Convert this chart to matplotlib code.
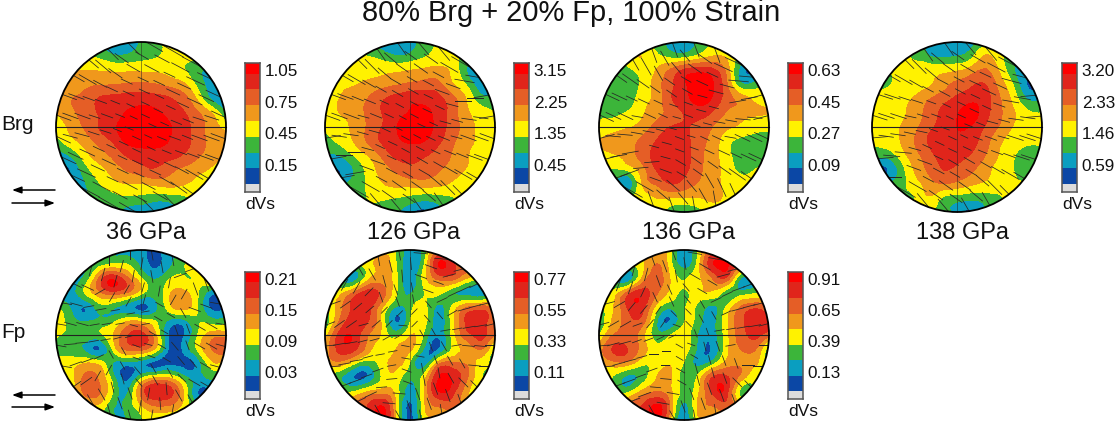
#!/usr/bin/env python3
import numpy as np
import matplotlib
matplotlib.use("Agg")
import matplotlib.pyplot as plt
import matplotlib.tri as mtri
from matplotlib.patches import Circle

plt.rcParams["font.family"] = ["Liberation Sans", "DejaVu Sans"]

W, H = 1116, 423

# field values in units of one colour band, rows top to bottom
brg_36 = [
    [2, 2, 2, 2, 1, 1, 2.2, 2.8, 3.2, 3.5, 3, 2, 1],
    [3, 3, 3, 2.8, 2.2, 2.2, 2.6, 2.9, 3.2, 3.3, 3, 2, 1.5],
    [4, 4, 4.0, 3.95, 3.85, 3.85, 3.85, 3.8, 3.6, 3.1, 2.3, 1.5, 1.5],
    [4, 4.2, 4.7, 4.9, 5.0, 5.1, 5.2, 5.05, 4.7, 4.2, 2.7, 1.5, 1.0],
    [4, 4.9, 5.4, 6.05, 6.3, 6.5, 6.6, 6.4, 6.1, 5.4, 3.8, 1.8, 1.2],
    [4, 4.6, 5.5, 6.05, 6.6, 7.05, 7.3, 7.2, 6.7, 6.1, 5.1, 3.95, 2.0],
    [3.5, 4.2, 5.1, 6.0, 6.8, 7.5, 7.9, 7.7, 7.1, 6.4, 5.5, 4.5, 3.7],
    [2.6, 3.6, 4.4, 5.3, 6.1, 7.2, 7.5, 7.5, 6.95, 6.3, 5.6, 4.6, 4.2],
    [1.5, 2.1, 3.5, 4.5, 5.2, 6.1, 6.5, 6.5, 6.4, 5.9, 5.2, 4.4, 4],
    [0.8, 1.0, 2.5, 3.6, 4.4, 5.1, 5.6, 5.9, 5.3, 4.8, 4.3, 3.9, 3.5],
    [1, 1.2, 1.9, 2.9, 3.6, 4.0, 4.0, 4.3, 4.4, 4.1, 3.7, 3.5, 3],
    [2, 2, 2, 2.4, 2.7, 2.8, 2.7, 2.4, 2.5, 2.8, 3.2, 3, 3],
    [3, 3, 3, 2.5, 2.5, 1.5, 1.0, 0.9, 1.2, 2.5, 3, 3, 3],
]
brg_126 = [
    [3, 3, 3, 2, 1.2, 0.8, 1.4, 2.5, 3, 3, 3, 3, 3],
    [3, 3, 3, 3, 2.6, 2.1, 2.3, 2.9, 3.4, 3.3, 2.6, 2, 2],
    [3, 3, 3.3, 3.5, 3.7, 3.8, 4.0, 4.2, 4.3, 3.7, 2.0, 1.0, 1.5],
    [3, 3.6, 3.9, 4.3, 4.6, 4.9, 5.2, 5.4, 5.3, 4.1, 2.9, 1.3, 1.5],
    [3.5, 4.0, 4.5, 5.0, 5.8, 6.4, 6.7, 6.7, 6.3, 5.3, 3.9, 2.4, 2.2],
    [3.2, 4.0, 4.4, 5.2, 6.0, 6.7, 7.1, 7.2, 6.6, 5.5, 4.2, 3.5, 3.0],
    [3.2, 3.6, 4.2, 5.1, 6.0, 6.9, 7.9, 7.6, 6.6, 5.5, 4.5, 3.7, 3.2],
    [2.6, 3.2, 4.0, 5.1, 6.1, 6.7, 7.2, 7.0, 6.2, 5.2, 4.3, 3.8, 3.3],
    [2, 2.0, 3.0, 4.0, 5.2, 6.2, 6.3, 6.1, 5.6, 4.9, 4.1, 3.6, 3.2],
    [1, 1.0, 2.0, 3.3, 4.4, 5.2, 5.7, 5.6, 5.1, 4.6, 3.9, 3.2, 3],
    [1, 1.5, 2.4, 3.1, 3.9, 4.3, 4.4, 4.5, 4.3, 3.8, 3.2, 3, 3],
    [3, 3, 3, 3, 3.1, 3.0, 2.7, 2.4, 2.6, 2.95, 3.3, 3, 3],
    [3, 3, 3, 3, 3, 2.2, 1.2, 0.7, 1.5, 2.5, 3, 3, 3],
]
brg_136 = [
    [3, 3, 3, 3, 2.5, 1.6, 1.0, 2.4, 3, 3, 3, 3, 3],
    [3, 3, 3.5, 4.0, 3.3, 2.7, 2.6, 3.3, 4.0, 3.8, 2.6, 2, 2],
    [2.8, 2.6, 2.7, 3.4, 4.0, 5.1, 6.2, 6.6, 6.3, 4.7, 1.6, 1.0, 2],
    [2.5, 2.4, 2.2, 3.2, 4.4, 5.7, 6.8, 7.6, 7.1, 5.2, 2.3, 2.4, 2.6],
    [2.5, 2.2, 2.3, 3.5, 4.3, 5.8, 6.7, 7.3, 6.9, 5.5, 4.6, 3.8, 3.5],
    [2.8, 2.7, 3.1, 3.8, 4.6, 5.3, 6.1, 6.5, 5.9, 4.9, 4.4, 4.1, 4.0],
    [3.3, 3.6, 3.9, 4.4, 5.3, 6.0, 6.1, 5.7, 5.0, 4.2, 3.8, 3.4, 3.3],
    [4.0, 4.3, 4.6, 5.2, 6.0, 6.5, 6.3, 5.5, 4.6, 3.4, 2.7, 2.5, 2.5],
    [3.7, 3.9, 4.4, 5.4, 6.3, 6.95, 6.5, 5.4, 4.4, 3.4, 2.4, 2.3, 2.6],
    [3, 2.9, 3.2, 4.5, 6.0, 6.7, 6.3, 5.3, 4.4, 3.6, 2.8, 3, 3],
    [2, 2, 1.2, 3.9, 5.1, 6.0, 5.6, 4.9, 4.3, 3.8, 3.3, 3, 3],
    [2, 2, 3, 3.3, 4.0, 4.0, 3.95, 3.95, 4.2, 3.8, 3.3, 3, 3],
    [3, 3, 3, 3, 3.2, 2.5, 1.7, 2.5, 3.2, 3.5, 3, 3, 3],
]
brg_138 = [
    [3, 3, 3, 3, 2, 1.3, 0.9, 1.6, 2.5, 3, 3, 3, 3],
    [3, 3, 3, 2.8, 2.1, 1.8, 2.0, 2.7, 4.1, 3.3, 2.5, 2, 2],
    [3, 3, 3.2, 3.5, 3.7, 3.7, 3.9, 4.5, 5.1, 3.9, 2.1, 1.2, 1.5],
    [2.8, 2.9, 3.3, 3.6, 3.9, 4.5, 5.3, 5.8, 6.0, 4.6, 2.9, 0.9, 1.5],
    [3, 3.4, 3.7, 4.1, 4.9, 5.6, 6.2, 6.7, 6.4, 5.1, 3.6, 1.9, 2],
    [3.2, 3.5, 3.8, 4.4, 5.4, 6.2, 6.9, 7.4, 6.4, 5.2, 4.1, 3.2, 3.0],
    [3.3, 3.6, 4.0, 4.7, 5.7, 6.4, 7.0, 6.9, 5.9, 4.9, 3.9, 3.4, 3.2],
    [3.0, 3.4, 4.0, 5.0, 6.1, 6.6, 6.8, 6.4, 5.4, 4.2, 3.5, 3.2, 3.2],
    [2.6, 2.3, 3.4, 4.6, 5.6, 6.4, 6.4, 5.9, 5.0, 3.9, 3.1, 2.4, 2.5],
    [1, 0.9, 2.4, 4.1, 5.2, 6.0, 5.8, 5.2, 4.4, 3.6, 3.0, 2.3, 3],
    [2, 2, 2.6, 3.5, 4.5, 5.0, 4.7, 4.2, 3.8, 3.4, 3.2, 3, 3],
    [3, 3, 3, 3.0, 3.9, 2.9, 2.5, 2.3, 2.5, 2.9, 3.2, 3, 3],
    [3, 3, 3, 3, 3, 2.5, 1.5, 0.8, 2, 3, 3, 3, 3],
]
fp_36 = [
    [2, 2, 2, 2, 2, 1.5, 1.2, 0.9, 1.5, 2, 2, 2, 2],
    [2, 2, 2, 2.5, 3.1, 3.0, 1.7, 0.8, 1.7, 2.9, 3.4, 3, 2],
    [2, 2, 2.2, 5.0, 6.8, 5.3, 3.2, 1.9, 2.9, 3.1, 3.3, 4, 3],
    [2, 1.5, 3.0, 4.7, 5.7, 5.0, 3.4, 2.4, 3.8, 4.3, 3.1, 1.4, 1],
    [3, 1.9, 1.1, 2.5, 2.3, 1.5, 0.7, 1.7, 3.6, 4.5, 3.0, 0.7, 1],
    [4.0, 2.5, 1.9, 2.2, 2.6, 3.8, 3.7, 3.0, 1.8, 1.7, 2.9, 2.4, 2.5],
    [3.2, 2.6, 2.6, 2.7, 3.9, 5.8, 6.4, 4.3, 0.8, 0.9, 3.0, 4.5, 4.5],
    [2.9, 2.4, 1.9, 0.9, 3.1, 5.2, 5.3, 3.8, 0.8, 1.2, 3.2, 5.0, 5.4],
    [3, 3.6, 4.0, 3.7, 2.0, 1.5, 1.4, 0.7, 0.7, 0.7, 1.4, 3.7, 3],
    [3, 3.5, 5.2, 4.9, 2.5, 0.7, 2.7, 3.9, 3.9, 2.4, 1.7, 2.2, 2],
    [3, 3, 5.3, 5.2, 3.0, 1.8, 5.2, 6.8, 6.4, 4.0, 1.0, 1, 1],
    [3, 3, 3.5, 3.8, 2.2, 2.3, 3.9, 5.0, 4.9, 3.7, 2, 1, 1],
    [3, 3, 3, 3, 2.5, 2.0, 2.9, 3.3, 3, 3, 2, 2, 2],
]
fp_126 = [
    [3, 3, 3, 3, 3.3, 3, 1.3, 2.5, 4.5, 5.5, 4, 3, 3],
    [3, 3, 3, 3.5, 4.5, 3.1, 1.3, 3.0, 7.0, 6.2, 5, 3, 3],
    [3, 2, 1.5, 3.6, 4.5, 3.3, 1.4, 3.5, 5.3, 5.4, 4.0, 3, 3],
    [3, 3.5, 5.0, 6.4, 5.6, 3.2, 1.9, 3.0, 3.3, 2.3, 1.7, 1.2, 2],
    [3, 4.5, 6.3, 6.5, 4.3, 2.0, 2.6, 3.3, 1.8, 3.2, 4.8, 5.2, 4.5],
    [2, 5.0, 6.5, 6.1, 3.8, 0.9, 2.9, 3.5, 1.5, 3.5, 6.2, 6.5, 5.0],
    [3.5, 6.3, 6.8, 5.1, 3.8, 2.6, 3.9, 2.8, 1.2, 3.4, 5.6, 6.3, 5.1],
    [4.3, 6.3, 6.3, 4.5, 3.4, 4.0, 4.2, 1.8, 1.0, 3.2, 4.3, 5.0, 2.5],
    [4, 4.6, 3.3, 2.4, 3.4, 4.3, 2.9, 1.4, 4.6, 5.2, 4.8, 3.5, 3],
    [3, 2.2, 1.0, 1.1, 3.1, 3.6, 2.2, 3.6, 6.9, 6.8, 5.2, 3.1, 3],
    [3, 3, 3.0, 4.0, 4.5, 3.6, 1.5, 4.0, 6.9, 6.4, 4.3, 3, 3],
    [3, 3, 5, 6.0, 7.0, 3.9, 0.8, 3.8, 5.1, 5.3, 4, 3, 3],
    [3, 3, 5, 6, 7, 4, 0.5, 3, 4, 4, 3, 3, 3],
]
fp_136 = [
    [3, 3, 3, 3, 4, 3.5, 0.9, 3, 5, 6, 5, 3, 3],
    [3, 3, 3, 3.7, 5.0, 3.5, 1.5, 3.5, 6.8, 7.2, 5.5, 3, 3],
    [3, 2, 1.3, 4.0, 5.5, 4.0, 2.9, 3.8, 5.0, 5.7, 2.0, 2, 3],
    [3, 3.3, 5.2, 6.5, 5.3, 3.7, 2.9, 3.6, 3.8, 2.6, 2.3, 2.8, 3],
    [3, 3.9, 6.1, 6.5, 3.8, 2.3, 2.9, 2.8, 1.8, 3.1, 5.0, 5.7, 5],
    [2, 4.2, 5.5, 5.6, 2.4, 1.0, 2.9, 2.5, 1.6, 3.7, 5.7, 6.5, 6],
    [3, 5, 5.4, 4.5, 2.5, 2.9, 3.5, 1.9, 1.4, 3.6, 5.5, 6.3, 5.5],
    [4.3, 6.1, 6.0, 4.6, 3.4, 3.5, 3.5, 1.7, 1.1, 3.6, 5.0, 5.1, 2.2],
    [4, 4.6, 4.5, 3.3, 3.4, 3.9, 2.9, 1.7, 2.6, 4.4, 4.8, 4.2, 3],
    [3, 2.9, 1.7, 2.4, 3.9, 4.2, 2.4, 3.3, 6.0, 6.2, 4.6, 3.3, 3],
    [3, 3, 2.8, 4.2, 5.0, 4.3, 2.6, 3.8, 6.2, 6.4, 2.7, 3, 3],
    [3, 3, 5, 6.0, 7.2, 5, 1.7, 4.2, 5.0, 5.6, 4, 3, 3],
    [3, 3, 5, 6, 7, 4, 0.8, 3.5, 4, 4, 3, 3, 3],
]

# stick directions in degrees, rows top to bottom
ang_brg_36 = [
    [-50, -50, -50, -45, -35, -30, -30, -30, -30],
    [-45, -45, -40, -35, -30, -28, -28, -28, -30],
    [-30, -30, -28, -25, -25, -25, -25, -25, -30],
    [-20, -20, -20, -22, -25, -25, -25, -25, -25],
    [-10, -15, -18, -22, -25, -25, -22, -18, -10],
    [-25, -25, -25, -25, -25, -22, -20, -20, -20],
    [-30, -25, -25, -25, -25, -25, -28, -30, -30],
    [-30, -28, -28, -28, -28, -30, -35, -45, -45],
    [-30, -30, -30, -30, -35, -45, -50, -50, -50],
]
ang_brg_126 = [
    [-60, -60, -60, -55, -50, -50, -45, -40, -30],
    [-45, -45, -45, -40, -35, -35, -30, -20, -10],
    [-30, -30, -30, -30, -30, -28, -20, -10, 10],
    [-20, -20, -22, -25, -28, -25, -15, 0, 10],
    [-5, -8, -15, -25, -28, -25, -15, -8, -5],
    [10, 0, -15, -25, -28, -25, -22, -20, -20],
    [10, 10, -20, -28, -30, -30, -30, -30, -30],
    [-10, -20, -30, -35, -35, -40, -45, -45, -45],
    [-30, -40, -45, -50, -50, -55, -60, -60, -60],
]
ang_brg_136 = [
    [-70, -70, -70, -70, -75, -70, -50, -30, -20],
    [-60, -60, -60, -60, -50, -35, -25, -15, -10],
    [-35, -35, -35, -35, -30, -25, -15, -5, 10],
    [-25, -25, -25, -25, -20, -15, 0, 10, 15],
    [-5, -5, -10, -15, -15, -15, -10, -5, -5],
    [15, 10, 0, -15, -20, -25, -25, -25, -25],
    [20, 20, 5, -20, -30, -35, -35, -35, -35],
    [-10, -20, -30, -40, -50, -60, -65, -60, -60],
    [-20, -30, -50, -70, -80, -80, -75, -70, -70],
]
ang_brg_138 = [
    [-60, -60, -60, -55, -55, -50, -45, -35, -30],
    [-45, -45, -45, -40, -35, -30, -28, -25, -10],
    [-30, -30, -30, -28, -28, -25, -25, -15, 0],
    [-18, -18, -18, -20, -25, -25, -20, -10, 5],
    [-5, -8, -12, -20, -25, -22, -15, -8, -5],
    [5, -5, -15, -25, -25, -22, -20, -18, -18],
    [10, 0, -20, -28, -30, -30, -30, -30, -30],
    [-10, -25, -30, -35, -35, -40, -45, -45, -45],
    [-30, -35, -45, -50, -55, -60, -60, -60, -60],
]
ang_fp_36 = [
    [-80, -80, -60, 90, 85, -80, 10, 10, 10],
    [-40, -60, 75, 75, 80, -80, 20, 15, 10],
    [-25, -25, 30, 60, 75, 80, 60, -70, 15],
    [-10, -15, 10, 10, 10, -30, -60, -20, -10],
    [0, 5, 10, 15, -15, -30, -70, -30, -5],
    [-10, 20, 25, -60, -20, -30, -50, -30, -15],
    [-10, 35, 60, -75, -50, -60, -45, -30, -15],
    [30, 45, -60, -70, 80, -85, -60, -60, -40],
    [60, 70, -70, -75, 80, 80, 80, 70, 60],
]
ang_fp_126 = [
    [70, -80, -70, -80, -90, -5, 15, 20, 20],
    [70, -60, -60, -75, -85, -20, 15, 20, 25],
    [70, 60, 45, -70, -80, -20, 25, 25, 25],
    [20, 35, 40, 45, 45, -50, 30, 15, 15],
    [-5, 10, 15, 30, -5, -60, 10, 10, 5],
    [5, 10, 15, 10, -10, -70, -60, -5, 0],
    [15, 20, 20, 5, -20, -80, -60, -45, -30],
    [30, 30, 25, -5, -70, -70, -70, -55, -45],
    [-50, -50, -50, -60, -85, -80, -70, -60, -50],
]
ang_fp_136 = [
    [70, -80, -70, -70, -90, -10, 15, 20, 20],
    [70, 70, 75, -70, -80, -30, 15, 20, 25],
    [70, 70, 65, -65, -50, -30, 25, 20, 20],
    [15, 30, 50, 55, -45, -60, 25, 15, 15],
    [5, 15, 20, 25, -20, -70, 10, 10, 5],
    [5, 15, 15, 0, -30, -75, -70, 0, 0],
    [15, 20, 20, -5, -30, -75, -70, -45, -30],
    [30, 30, 20, -10, -70, -70, -70, -55, -45],
    [-50, -50, -50, -60, -85, -80, -70, -60, -50],
]

# stick lengths, fraction of the circle radius
len_brg = [
    [.30, .30, .30, .30, .28, .30, .30, .30, .30],
    [.30, .30, .24, .20, .18, .20, .24, .30, .30],
    [.30, .24, .18, .15, .14, .15, .18, .24, .30],
    [.30, .20, .15, .12, .11, .12, .15, .20, .30],
    [.28, .18, .14, .11, .10, .11, .14, .18, .28],
    [.30, .20, .15, .12, .11, .12, .15, .20, .30],
    [.30, .24, .18, .15, .14, .15, .18, .24, .30],
    [.30, .30, .24, .20, .18, .20, .24, .30, .30],
    [.30, .30, .30, .30, .28, .30, .30, .30, .30],
]
len_fp = [
    [.17, .17, .17, .17, .17, .17, .17, .17, .17],
    [.17, .17, .16, .15, .15, .15, .16, .17, .17],
    [.17, .16, .14, .13, .12, .13, .14, .16, .17],
    [.17, .15, .13, .11, .10, .11, .13, .15, .17],
    [.17, .15, .12, .10, .10, .10, .12, .15, .17],
    [.17, .15, .13, .11, .10, .11, .13, .15, .17],
    [.17, .16, .14, .13, .12, .13, .14, .16, .17],
    [.17, .17, .16, .15, .15, .15, .16, .17, .17],
    [.17, .17, .17, .17, .17, .17, .17, .17, .17],
]

ticks_36 = [0.15, 0.45, 0.75, 1.05]
ticks_126 = [0.45, 1.35, 2.25, 3.15]
ticks_136 = [0.09, 0.27, 0.45, 0.63]
ticks_138 = [0.59, 1.46, 2.33, 3.20]
ticks_fp_36 = [0.03, 0.09, 0.15, 0.21]
ticks_fp_126 = [0.11, 0.33, 0.55, 0.77]
ticks_fp_136 = [0.13, 0.39, 0.65, 0.91]

pressures = ["36 GPa", "126 GPa", "136 GPa", "138 GPa"]

band_colors = ["#0B47A5", "#0A9EC0", "#3CB53A", "#FFF200",
               "#F0981C", "#E55E26", "#E0251B", "#FE0000"]


def add_ax(fig, x0, y0, x1, y1):
    # pixel box, y measured from the top
    return fig.add_axes([x0 / W, 1 - y1 / H, (x1 - x0) / W, (y1 - y0) / H])


def draw_sticks(ax, angles, lengths):
    # sticks sit on rings, each one takes the nearest entry of the tables
    a = np.radians(np.array(angles, dtype=float))[::-1]
    ln = np.array(lengths)[::-1]
    m = a.shape[0]
    sx, sy, u, v = [], [], [], []
    for r, count in zip([0.14, 0.28, 0.42, 0.56, 0.70, 0.84, 0.97], [6, 10, 14, 18, 20, 22, 24]):
        for t in np.arange(count) * 2 * np.pi / count + 0.13:
            x, y = r * np.cos(t), r * np.sin(t)
            j = int(round((x + 1) / 2 * (m - 1)))
            i = int(round((y + 1) / 2 * (m - 1)))
            sx.append(x)
            sy.append(y)
            u.append(ln[i, j] * np.cos(a[i, j]))
            v.append(ln[i, j] * np.sin(a[i, j]))
    q = ax.quiver(sx, sy, u, v, angles="xy", scale_units="xy", scale=1, pivot="mid",
                  units="xy", width=0.009, headwidth=0, headlength=0,
                  headaxislength=0, color="#262626", zorder=3)
    q.set_clip_path(Circle((0, 0), 1, transform=ax.transData))


def pole_figure(fig, cx, cy, grid, ticks, angles, lengths, r=85):
    ax = add_ax(fig, cx - r - 3, cy - r - 3, cx + r + 3, cy + r + 3)
    ax.set_xlim(-1 - 3 / r, 1 + 3 / r)
    ax.set_ylim(-1 - 3 / r, 1 + 3 / r)
    ax.axis("off")

    step = (ticks[3] - ticks[0]) / 6
    z = np.array(grid, dtype=float)[::-1] * step
    n = z.shape[0]
    X, Y = np.meshgrid(np.linspace(-1, 1, n), np.linspace(-1, 1, n))
    tri = mtri.Triangulation(X.ravel(), Y.ravel())
    tf, zf = mtri.UniformTriRefiner(tri).refine_field(z.ravel(), subdiv=3)
    levels = np.array([-99, 1, 2, 3, 4, 5, 6, 7, 99]) * step
    cs = ax.tricontourf(tf, zf, levels=levels, colors=band_colors)

    clip = Circle((0, 0), 1, transform=ax.transData)
    cs.set_clip_path(clip)

    # axis cross
    ax.plot([-1, 1], [0, 0], color="#222222", lw=0.8)
    ax.plot([0, 0], [-1, 1], color="#222222", lw=0.5, alpha=0.7)

    draw_sticks(ax, angles, lengths)

    ax.add_patch(Circle((0, 0), 1, fill=False, ec="black", lw=1.3, zorder=4))


def color_bar(fig, x0, y0, y1, ticks):
    ax = add_ax(fig, x0, y0, x0 + 15, y1)
    ax.set_xlim(0, 1)
    ax.set_ylim(-0.5, 7.67)
    ax.bar(0.5, 0.5, width=1, bottom=-0.5, color="#DCDCDC")
    for k, c in enumerate(band_colors):
        ax.bar(0.5, 1, width=1, bottom=k, color=c)
    ax.set_xticks([])
    ax.set_yticks([])
    for s in ax.spines.values():
        s.set_color("#555555")
        s.set_linewidth(1.1)
    for k, t in zip([1, 3, 5, 7], ticks):
        ax.text(1.32, k + 0.13, f"{t:.2f}", fontsize=12.3, va="center", ha="left", color="#111111")
    fig.text((x0 + 0) / W, 1 - (y1 + 12) / H, "dVs", fontsize=12.5, va="center", ha="left", color="#111111")


def shear_arrows(fig, y_top, y_bot):
    ax = add_ax(fig, 0, 0, W, H)
    ax.set_xlim(0, W)
    ax.set_ylim(H, 0)
    ax.axis("off")
    ax.patch.set_alpha(0)
    style = dict(arrowstyle="-|>,head_length=0.55,head_width=0.2", color="black", lw=1.1,
                 shrinkA=0, shrinkB=0)
    ax.annotate("", xy=(12, y_top), xytext=(55, y_top), arrowprops=style)
    ax.annotate("", xy=(55, y_bot), xytext=(12, y_bot), arrowprops=style)


def main():
    fig = plt.figure(figsize=(W / 100, H / 100), dpi=100)

    top_y, bot_y = 127, 335
    centers = [141, 410, 684, 957]
    bar_x = [245, 514, 788, 1062]

    top = [(brg_36, ticks_36, ang_brg_36), (brg_126, ticks_126, ang_brg_126),
           (brg_136, ticks_136, ang_brg_136), (brg_138, ticks_138, ang_brg_138)]
    bottom = [(fp_36, ticks_fp_36, ang_fp_36), (fp_126, ticks_fp_126, ang_fp_126),
              (fp_136, ticks_fp_136, ang_fp_136)]

    for cx, bx, (grid, ticks, ang) in zip(centers, bar_x, top):
        pole_figure(fig, cx, top_y, grid, ticks, ang, len_brg)
        color_bar(fig, bx, 63, 192, ticks)

    for cx, bx, (grid, ticks, ang) in zip(centers, bar_x, bottom):
        pole_figure(fig, cx, bot_y, grid, ticks, ang, len_fp)
        color_bar(fig, bx, 272, 399, ticks)

    fig.text(571 / W, 1 - 13 / H, "80% Brg + 20% Fp, 100% Strain", fontsize=20.9,
             ha="center", va="center", color="#111111")
    fig.text(1 / W, 1 - 124 / H, "Brg", fontsize=15, ha="left", va="center", color="#111111")
    fig.text(1 / W, 1 - 332 / H, "Fp", fontsize=15, ha="left", va="center", color="#111111")
    for x, label in zip([146, 414, 689, 963], pressures):
        fig.text(x / W, 1 - 233 / H, label, fontsize=17, ha="center", va="center", color="#111111")

    shear_arrows(fig, 190, 203)
    shear_arrows(fig, 395, 407)

    fig.savefig("out.png", dpi=100)
    plt.close(fig)


if __name__ == "__main__":
    main()
